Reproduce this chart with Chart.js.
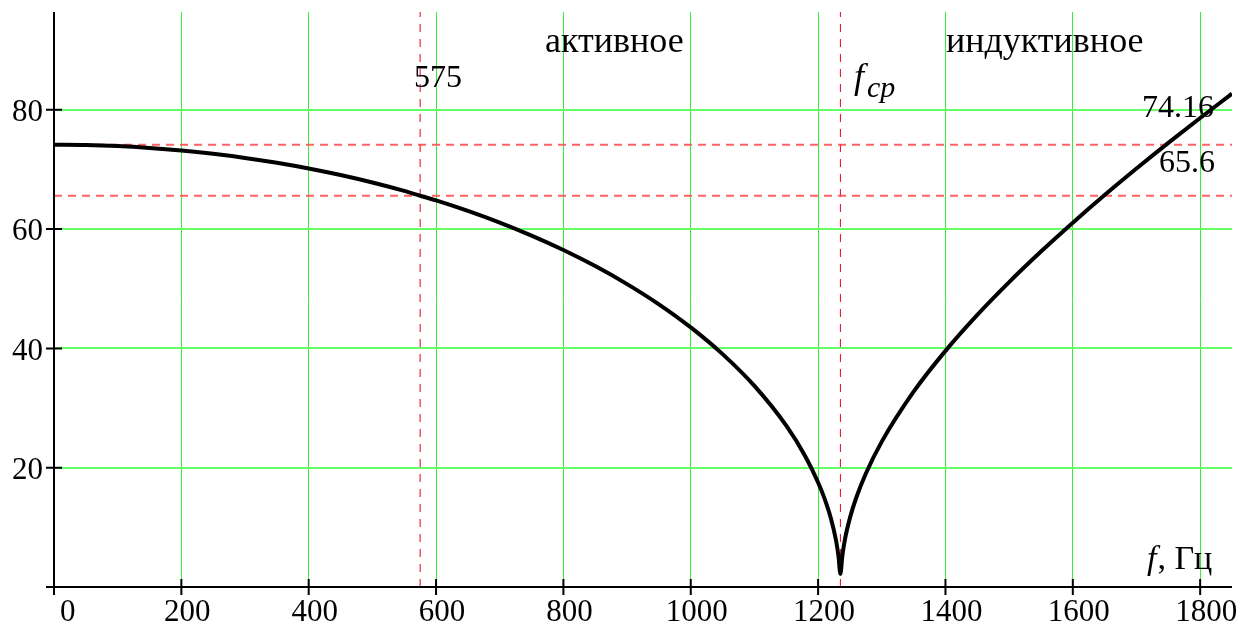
<!DOCTYPE html>
<html>
<head>
<meta charset="utf-8">
<script src="https://cdn.jsdelivr.net/npm/chart.js@4.4.1/dist/chart.umd.min.js"></script>
<style>
html,body{margin:0;padding:0;background:#fff;}
#wrap{width:1256px;height:630px;position:relative;}
</style>
</head>
<body>
<div id="wrap"><canvas id="c" width="1256" height="630"></canvas></div>
<script>
// ---- data ----
const freq = [0,50,100,150,200,250,300,350,400,450,500,550,575,600,650,700,750,800,850,900,950,1000,1050,1100,1150,1180,1200,1210,1220,1228,1232,1235,1238,1242,1250,1260,1275,1300,1350,1400,1450,1500,1550,1600,1650,1700,1750,1800,1850];
const impedance = [74.16,74.10,73.92,73.61,73.18,72.62,71.94,71.12,70.16,69.06,67.81,66.40,65.6,64.82,63.06,61.10,58.92,56.50,53.80,50.78,47.39,43.52,39.04,33.71,27.04,21.89,17.53,14.85,11.52,7.88,5.16,2.2,5.17,7.91,11.59,15.00,19.03,24.37,32.74,39.59,45.62,51.12,56.24,61.08,65.71,70.15,74.45,78.63,82.71];
const refLevels = [74.16, 65.6];
const refFreqs = [575, 1235];
const xTicks = [0,200,400,600,800,1000,1200,1400,1600,1800];
const yTicks = [20,40,60,80];
const regionLabels = ['активное','индуктивное'];

const X_MAX = 1850, Y_MAX = 96.4;

const datasets = [{
  data: freq.map((f,i)=>({x:f,y:impedance[i]})),
  borderColor:'#000', borderWidth:4, pointRadius:0, order:0,
  cubicInterpolationMode:'monotone'
}];
refLevels.forEach(v=>datasets.push({
  data:[{x:0,y:v},{x:X_MAX,y:v}],
  borderColor:'rgba(255,70,70,0.85)', borderWidth:2, borderDash:[8,6], pointRadius:0, order:2
}));
refFreqs.forEach(v=>datasets.push({
  data:[{x:v,y:0},{x:v,y:Y_MAX}],
  borderColor:'#e8001c', borderWidth:1, borderDash:[8,7], pointRadius:0, order:2
}));

const serif = "'Liberation Serif','Times New Roman',serif";

const overlay = {
  id:'overlay',
  afterDatasetsDraw(chart){
    const ctx = chart.ctx, xs = chart.scales.x, ys = chart.scales.y;
    const x0 = xs.getPixelForValue(0), y0 = ys.getPixelForValue(0);
    ctx.save();
    ctx.strokeStyle='#000'; ctx.lineWidth=2;
    ctx.beginPath();
    ctx.moveTo(x0-8, y0); ctx.lineTo(chart.chartArea.right, y0);
    ctx.moveTo(x0, chart.chartArea.top); ctx.lineTo(x0, y0+8);
    xTicks.forEach(v=>{const p=xs.getPixelForValue(v); ctx.moveTo(p,y0-8); ctx.lineTo(p,y0+8);});
    yTicks.forEach(v=>{const p=ys.getPixelForValue(v); ctx.moveTo(x0-8,p); ctx.lineTo(x0+8,p);});
    ctx.stroke();
    ctx.fillStyle='#000'; ctx.textBaseline='alphabetic'; ctx.textAlign='left';
    ctx.font = "36px "+serif;
    ctx.fillText(regionLabels[0], 545, 52);
    ctx.fillText(regionLabels[1], 946, 52);
    ctx.font = "32px "+serif;
    ctx.fillText(String(refFreqs[0]), 414, 87);
    ctx.fillText(refLevels[0].toFixed(2), 1142, 117);
    ctx.fillText(String(refLevels[1]), 1159, 172);
    ctx.font = "italic 36px "+serif;
    ctx.fillText('f', 854, 88);
    ctx.font = "italic 30px "+serif;
    ctx.fillText('ср', 867, 97);
    ctx.font = "italic 34px "+serif;
    ctx.fillText('f', 1147, 569);
    const fw = ctx.measureText('f').width;
    ctx.font = "34px "+serif;
    ctx.fillText(', Гц', 1147+fw+1, 569);
    ctx.restore();
  }
};

new Chart(document.getElementById('c'), {
  type:'line',
  data:{datasets},
  options:{
    responsive:false, animation:false,
    plugins:{legend:{display:false}, tooltip:{enabled:false}},
    layout:{padding:{top:12,right:24,left:0,bottom:0}},
    scales:{
      x:{type:'linear', min:0, max:X_MAX,
        afterFit(s){s.height=43; s.paddingLeft=0; s.paddingRight=0;},
        afterBuildTicks(s){s.ticks=xTicks.map(v=>({value:v}));},
        grid:{color:'#33ee33', lineWidth:1, drawTicks:false},
        border:{display:false},
        ticks:{font:{family:serif,size:31}, color:'#000', padding:7, maxRotation:0, autoSkip:false,
          labelOffset:6, callback:(v)=>v===0?'  0':String(v)}
      },
      y:{type:'linear', min:0, max:Y_MAX,
        afterFit(s){s.width=54; s.paddingTop=0; s.paddingBottom=0;},
        afterBuildTicks(s){s.ticks=yTicks.map(v=>({value:v}));},
        grid:{color:'#66ff66', lineWidth:2, drawTicks:false},
        border:{display:false},
        ticks:{font:{family:serif,size:31}, color:'#000', padding:11, labelOffset:3, callback:(v)=>String(v)}
      }
    }
  },
  plugins:[overlay]
});
</script>
</body>
</html>
